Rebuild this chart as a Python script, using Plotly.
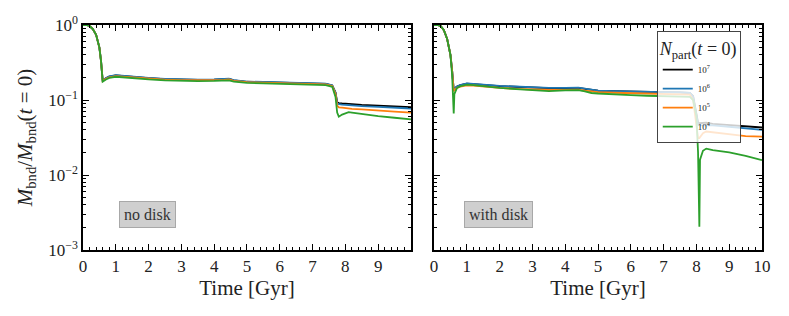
import plotly.graph_objects as go

# ---------------- data ----------------
t_nodisk = [0.0, 0.1, 0.2, 0.3, 0.4, 0.5, 0.55, 0.6, 0.7, 0.8, 1.0, 1.2, 1.5, 2.0, 2.5,
            3.0, 3.5, 4.0, 4.3, 4.45, 4.6, 4.8, 5.0, 5.5, 6.0, 6.5, 7.0, 7.4, 7.6, 7.7,
            7.75, 7.8, 7.9, 8.0, 8.1, 8.2, 8.5, 9.0, 9.5, 10.0]
nd_1e7 = [1.0, 1.0, 0.97, 0.88, 0.74, 0.50, 0.33, 0.182, 0.195, 0.205, 0.213, 0.209, 0.203,
          0.196, 0.190, 0.187, 0.186, 0.187, 0.189, 0.191, 0.183, 0.177, 0.175, 0.173,
          0.171, 0.169, 0.167, 0.164, 0.156, 0.126, 0.093, 0.091, 0.090, 0.089, 0.088,
          0.087, 0.086, 0.084, 0.082, 0.080]
nd_1e6 = [1.0, 1.0, 0.97, 0.88, 0.74, 0.50, 0.33, 0.182, 0.196, 0.206, 0.214, 0.210, 0.204,
          0.197, 0.191, 0.188, 0.187, 0.188, 0.190, 0.192, 0.184, 0.178, 0.176, 0.174,
          0.172, 0.170, 0.168, 0.165, 0.157, 0.125, 0.090, 0.088, 0.087, 0.086, 0.085,
          0.084, 0.083, 0.081, 0.079, 0.077]
nd_1e5 = [1.0, 1.0, 0.97, 0.88, 0.74, 0.50, 0.33, 0.180, 0.192, 0.201, 0.208, 0.205, 0.199,
          0.192, 0.187, 0.184, 0.183, 0.184, 0.186, 0.188, 0.180, 0.175, 0.173, 0.171,
          0.169, 0.167, 0.165, 0.162, 0.154, 0.120, 0.084, 0.080, 0.079, 0.078, 0.077,
          0.076, 0.075, 0.072, 0.070, 0.068]
nd_1e4 = [1.0, 1.0, 0.97, 0.88, 0.74, 0.50, 0.33, 0.176, 0.188, 0.197, 0.204, 0.200, 0.195,
          0.188, 0.183, 0.180, 0.179, 0.180, 0.181, 0.183, 0.176, 0.171, 0.169, 0.167,
          0.165, 0.163, 0.161, 0.158, 0.150, 0.110, 0.068, 0.060, 0.064, 0.067, 0.069,
          0.068, 0.065, 0.061, 0.058, 0.055]

t_disk = [0.0, 0.1, 0.2, 0.3, 0.4, 0.5, 0.55, 0.6, 0.62, 0.7, 0.8, 1.0, 1.2, 1.5, 2.0,
          2.5, 3.0, 3.5, 4.0, 4.4, 4.6, 4.8, 5.0, 5.5, 6.0, 6.5, 7.0, 7.5, 7.8, 7.9,
          8.0, 8.05, 8.09, 8.11, 8.2, 8.3, 8.5, 9.0, 9.5, 10.0]
wd_1e7 = [1.0, 1.0, 0.97, 0.85, 0.65, 0.40, 0.25, 0.137, 0.142, 0.151, 0.158, 0.165, 0.164,
          0.159, 0.153, 0.149, 0.146, 0.144, 0.144, 0.145, 0.141, 0.136, 0.133, 0.131,
          0.129, 0.128, 0.127, 0.126, 0.124, 0.112, 0.060, 0.050, 0.049, 0.049, 0.050,
          0.050, 0.048, 0.046, 0.044, 0.043]
wd_1e6 = [1.0, 1.0, 0.97, 0.85, 0.65, 0.40, 0.25, 0.137, 0.142, 0.151, 0.158, 0.166, 0.165,
          0.160, 0.154, 0.150, 0.147, 0.145, 0.145, 0.146, 0.142, 0.136, 0.133, 0.131,
          0.129, 0.128, 0.127, 0.126, 0.124, 0.110, 0.057, 0.047, 0.046, 0.046, 0.047,
          0.047, 0.046, 0.044, 0.042, 0.040]
wd_1e5 = [1.0, 1.0, 0.97, 0.85, 0.65, 0.40, 0.25, 0.130, 0.136, 0.145, 0.151, 0.157, 0.156,
          0.151, 0.145, 0.141, 0.138, 0.136, 0.136, 0.137, 0.133, 0.129, 0.127, 0.125,
          0.123, 0.121, 0.120, 0.119, 0.118, 0.100, 0.045, 0.031, 0.031, 0.032, 0.036,
          0.038, 0.037, 0.035, 0.033, 0.0325]
wd_1e4 = [1.0, 1.0, 0.97, 0.85, 0.65, 0.40, 0.22, 0.066, 0.120, 0.145, 0.153, 0.160, 0.158,
          0.152, 0.145, 0.140, 0.136, 0.131, 0.134, 0.135, 0.130, 0.124, 0.122, 0.118,
          0.116, 0.114, 0.113, 0.112, 0.110, 0.100, 0.060, 0.020, 0.00205, 0.016, 0.021,
          0.0225, 0.0215, 0.020, 0.018, 0.0158]

series_names = ["10<sup>7</sup>", "10<sup>6</sup>", "10<sup>5</sup>", "10<sup>4</sup>"]
series_colors = ["#000000", "#1f77b4", "#ff7f0e", "#2ca02c"]
nodisk_series = [nd_1e7, nd_1e6, nd_1e5, nd_1e4]
disk_series = [wd_1e7, wd_1e6, wd_1e5, wd_1e4]

y_tickvals = [1e-3, 1e-2, 1e-1, 1.0]
y_ticktext = ["10<sup>−3</sup>", "10<sup>−2</sup>", "10<sup>−1</sup>", "10<sup>0</sup>"]
x_ticks_left = [0, 1, 2, 3, 4, 5, 6, 7, 8, 9]
x_ticks_right = [0, 1, 2, 3, 4, 5, 6, 7, 8, 9, 10]

panel_labels = ["no disk", "with disk"]

# ---------------- figure ----------------
FONT = "Liberation Serif"
fig = go.Figure()

for name, col, ys in zip(series_names, series_colors, nodisk_series):
    fig.add_trace(go.Scatter(x=t_nodisk, y=ys, mode="lines", name=name,
                             line=dict(color=col, width=1.8), showlegend=False,
                             xaxis="x", yaxis="y"))
for name, col, ys in zip(series_names, series_colors, disk_series):
    fig.add_trace(go.Scatter(x=t_disk, y=ys, mode="lines", name=name,
                             line=dict(color=col, width=1.8), showlegend=True,
                             xaxis="x2", yaxis="y2"))

minor_y = [m * 10.0 ** e for e in (-3, -2, -1) for m in range(2, 10)]

axis_common = dict(showline=True, linecolor="black", linewidth=1.5, mirror="allticks",
                   ticks="inside", ticklen=6, tickwidth=1, tickcolor="black",
                   showgrid=False, zeroline=False, automargin=False,
                   tickfont=dict(family=FONT, size=17, color="#222"))

xcommon = dict(axis_common, range=[0, 10],
               minor=dict(ticks="inside", ticklen=3, tickcolor="black", dtick=0.2, showgrid=False),
               title=dict(text="Time [Gyr]", font=dict(family=FONT, size=21, color="#222"), standoff=2))
ycommon = dict(axis_common, type="log", range=[-3, 0], tickvals=y_tickvals,
               minor=dict(ticks="inside", ticklen=3, tickcolor="black", tickvals=minor_y, showgrid=False))

# the page places the figure 8px from the top-left corner; margins compensate for it
fig.update_layout(
    width=789, height=316,
    margin=dict(l=75, r=35, t=17, b=74),
    paper_bgcolor="white", plot_bgcolor="white",
    font=dict(family=FONT, color="#222"),
    xaxis=dict(xcommon, domain=[0, 0.483], tickvals=x_ticks_left),
    xaxis2=dict(xcommon, domain=[0.517, 1.0], tickvals=x_ticks_right),
    yaxis=dict(ycommon, ticktext=y_ticktext, anchor="x",
               title=dict(text="<i>M</i><sub>bnd</sub>/<i>M</i><sub>bnd</sub>(<i>t</i> = 0)",
                          font=dict(family=FONT, size=21, color="#222"), standoff=10)),
    yaxis2=dict(ycommon, anchor="x2", showticklabels=False),
    legend=dict(x=0.845, y=0.975, xanchor="left", yanchor="top",
                bgcolor="rgba(255,255,255,0.8)", bordercolor="#444", borderwidth=1,
                title=dict(text="<i>N</i><sub>part</sub>(<i>t</i> = 0)",
                           font=dict(family=FONT, size=18, color="#222")),
                font=dict(family=FONT, size=9, color="#222"),
                itemwidth=30, tracegroupgap=0),
    showlegend=True,
)

for lbl, xr, yr in zip(panel_labels, ["x", "x2"], ["y", "y2"]):
    fig.add_annotation(text=lbl, x=1.98, y=-2.53, xref=xr, yref=yr, showarrow=False,
                       font=dict(family=FONT, size=16, color="#333"),
                       bgcolor="#cfcfcf", bordercolor="#a8a8a8", borderwidth=1, borderpad=4)

fig.write_html("out.html")
